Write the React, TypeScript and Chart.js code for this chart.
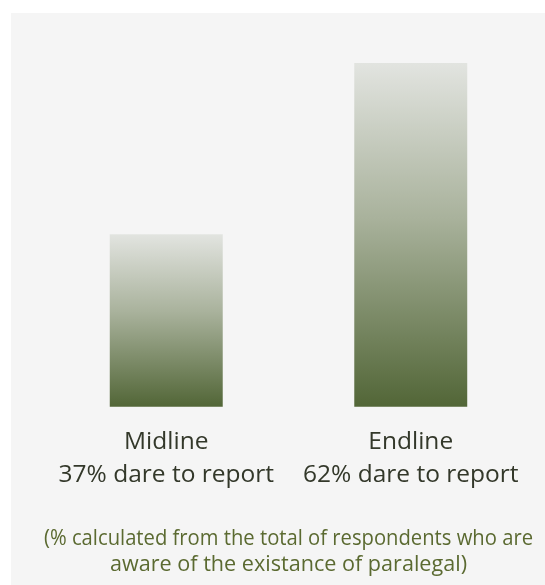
import React, { useEffect, useRef } from "react";
import { Chart, registerables } from "chart.js";

Chart.register(...registerables);

const categories: string[][] = [
  ["Midline", "37% dare to report"],
  ["Endline", "62% dare to report"],
];
const values: number[] = [37, 62];
const footnote: string[] = [
  "(% calculated from the total of respondents who are",
  "aware of the existance of paralegal)",
];
const Y_MIN = 11.8;
const Y_MAX = 69.3;

const FONT = "'Open Sans', 'Noto Sans', sans-serif";

export default function App() {
  const ref = useRef<HTMLCanvasElement | null>(null);

  useEffect(() => {
    if (!ref.current) return;
    const chart = new Chart(ref.current, {
      type: "bar",
      data: {
        labels: categories,
        datasets: [
          {
            data: values,
            backgroundColor: (ctx: any) => {
              const c = ctx.chart;
              const area = c.chartArea;
              const ys = c.scales && c.scales.y;
              if (!area || !ys || ctx.dataIndex === undefined) return "#8a9678";
              const v = values[ctx.dataIndex];
              const top = ys.getPixelForValue(v);
              const bottom = ys.getPixelForValue(Y_MIN);
              const g = c.ctx.createLinearGradient(0, top, 0, bottom);
              g.addColorStop(0, "#e2e4e0");
              g.addColorStop(0.45, "#a9b29c");
              g.addColorStop(1, "#526637");
              return g;
            },
            borderWidth: 0,
            barPercentage: 0.462,
            categoryPercentage: 1,
          },
        ],
      },
      options: {
        animation: false,
        responsive: true,
        maintainAspectRatio: false,
        layout: { padding: { left: 33, right: 12, top: 0, bottom: 0 } },
        plugins: {
          legend: { display: false },
          tooltip: { enabled: false },
          title: {
            display: true,
            position: "bottom",
            text: footnote,
            color: "#5b6a31",
            font: { family: FONT, size: 21.6, weight: "normal", lineHeight: 1.2 },
            padding: { top: 15.5, bottom: 7 },
          },
        },
        scales: {
          x: {
            grid: { display: false, drawTicks: false },
            border: { display: false },
            ticks: {
              color: "#33382a",
              font: { family: FONT, size: 24.5, lineHeight: 33 / 24.5 },
              padding: 19,
              maxRotation: 0,
              autoSkip: false,
            },
          },
          y: {
            display: false,
            min: Y_MIN,
            max: Y_MAX,
          },
        },
      },
    });
    return () => chart.destroy();
  }, []);

  return (
    <div
      style={{
        position: "fixed",
        left: 11,
        top: 13,
        width: 534,
        height: 572,
        background: "#f5f5f5",
      }}
    >
      <div style={{ position: "relative", width: 534, height: 572 }}>
        <canvas ref={ref} />
      </div>
    </div>
  );
}
